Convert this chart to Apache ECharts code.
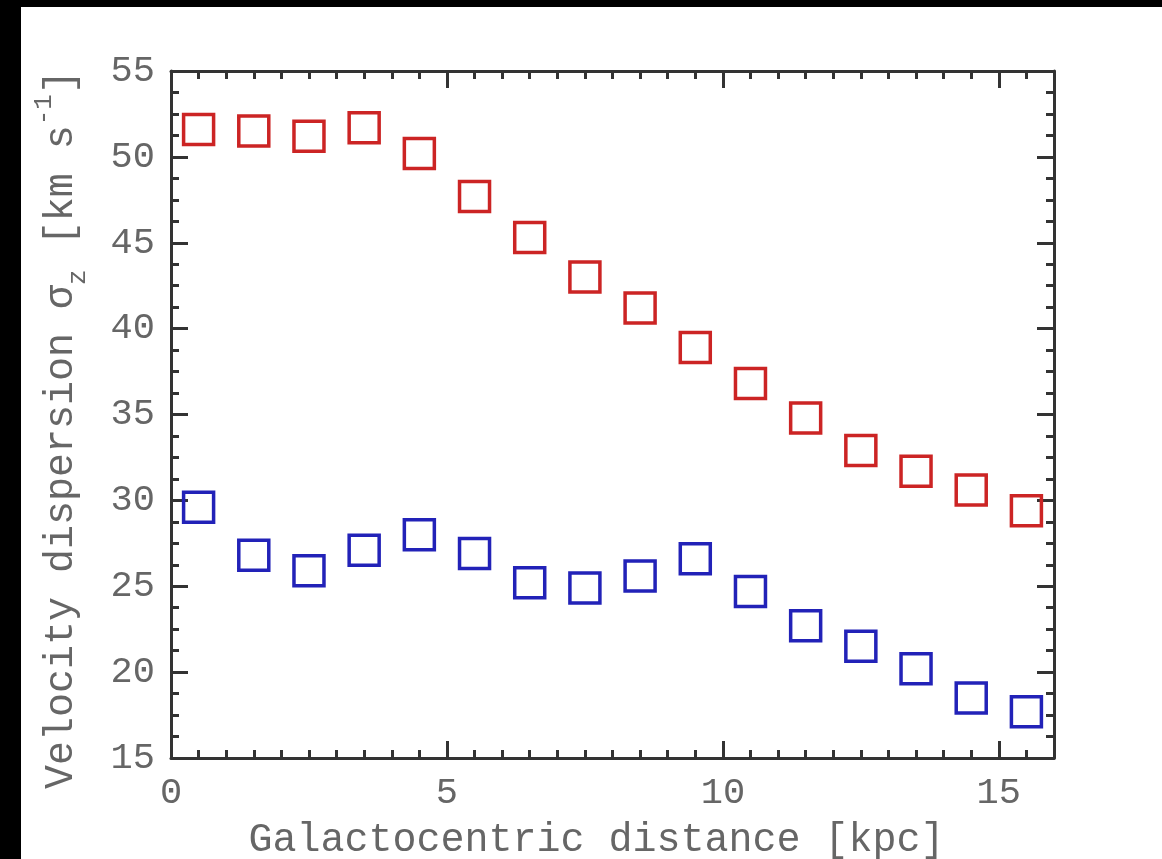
<!DOCTYPE html>
<html>
<head>
<meta charset="utf-8">
<script src="https://cdn.jsdelivr.net/npm/echarts@6/dist/echarts.min.js"></script>
<style>
  html, body { margin: 0; padding: 0; background: #000; }
  #chart { position: absolute; left: 21px; top: 7px; width: 1141px; height: 852px; background: #fff; }
</style>
</head>
<body>
<div id="chart"></div>
<script>
// distance bins [kpc]
const radius = [0.5, 1.5, 2.5, 3.5, 4.5, 5.5, 6.5, 7.5, 8.5, 9.5, 10.5, 11.5, 12.5, 13.5, 14.5, 15.5]
// sigma_z, upper (red) and lower (blue) samples [km/s]
const sigmaRed = [51.6, 51.5, 51.2, 51.7, 50.2, 47.7, 45.3, 43.0, 41.2, 38.9, 36.8, 34.8, 32.9, 31.7, 30.6, 29.4]
const sigmaBlue = [29.6, 26.8, 25.9, 27.1, 28.0, 26.9, 25.2, 24.9, 25.6, 26.6, 24.7, 22.7, 21.5, 20.2, 18.5, 17.7]

const xRange = [0, 16]
const yRange = [15, 55]

const font = '"Liberation Mono", "Courier New", monospace'
const axisColor = '#333'
const textColor = '#666'

const chart = echarts.init(document.getElementById('chart'))

// x axis: one axis for the short 0.5 ticks, one for the long ticks + labels
const xAxisPair = (position, withLabels) => [
  {
    type: 'value', position, min: xRange[0], max: xRange[1], interval: 0.5,
    axisLine: { show: true, onZero: false, lineStyle: { color: axisColor, width: 3 } },
    axisTick: { show: true, inside: true, length: 8, lineStyle: { color: axisColor, width: 3 } },
    axisLabel: { show: false },
    splitLine: { show: false },
  },
  {
    type: 'value', position, min: xRange[0], max: xRange[1], interval: 5,
    axisLine: { show: false, onZero: false },
    axisTick: { show: true, inside: true, length: 17, lineStyle: { color: axisColor, width: 3 } },
    axisLabel: {
      show: withLabels, margin: 17, color: textColor, fontFamily: font, fontSize: 37,
      formatter: (v) => (v % 5 === 0 ? String(v) : ''),
    },
    splitLine: { show: false },
    name: withLabels ? 'Galactocentric distance [kpc]' : '',
    nameLocation: 'middle',
    nameGap: 62,
    nameTextStyle: { color: textColor, fontFamily: font, fontSize: 40, padding: [0, 32, 0, 0] },
  },
]

const yAxisOne = (position, withLabels) => ({
  type: 'value', position, min: yRange[0], max: yRange[1], interval: 5,
  axisLine: { show: true, onZero: false, lineStyle: { color: axisColor, width: 3 } },
  axisTick: { show: true, inside: true, length: 17, lineStyle: { color: axisColor, width: 3 } },
  minorTick: { show: true, splitNumber: 4, length: 8, lineStyle: { color: axisColor, width: 3 } },
  axisLabel: { show: withLabels, margin: 16, color: textColor, fontFamily: font, fontSize: 37 },
  splitLine: { show: false },
  name: withLabels ? 'Velocity dispersion σ{sub|z} [km s{sup|-1}]' : '',
  nameLocation: 'middle',
  nameGap: 80,
  nameRotate: 90,
  nameTextStyle: {
    color: textColor, fontFamily: font, fontSize: 40, lineHeight: 56, padding: [0, 30, 0, 0],
    rich: {
      sub: { fontSize: 26, fontFamily: font, color: textColor, verticalAlign: 'bottom', lineHeight: 60 },
      sup: { fontSize: 26, fontFamily: font, color: textColor, verticalAlign: 'top', lineHeight: 56 },
    },
  },
})

const marker = (color) => ({
  type: 'scatter',
  symbol: 'rect',
  symbolSize: 30,
  xAxisIndex: 0,
  yAxisIndex: 0,
  itemStyle: { color: 'rgba(0,0,0,0)', borderColor: color, borderWidth: 3.5, opacity: 1 },
})

chart.setOption({
  backgroundColor: '#fff',
  animation: false,
  grid: { left: 150, top: 64, width: 883, height: 687, containLabel: false, outerBoundsMode: 'none' },
  xAxis: [...xAxisPair('bottom', true), ...xAxisPair('top', false)],
  yAxis: [yAxisOne('left', true), yAxisOne('right', false)],
  series: [
    { ...marker('#cc2424'), data: radius.map((r, i) => [r, sigmaRed[i]]) },
    { ...marker('#2222b8'), data: radius.map((r, i) => [r, sigmaBlue[i]]) },
  ],
})
</script>
</body>
</html>
